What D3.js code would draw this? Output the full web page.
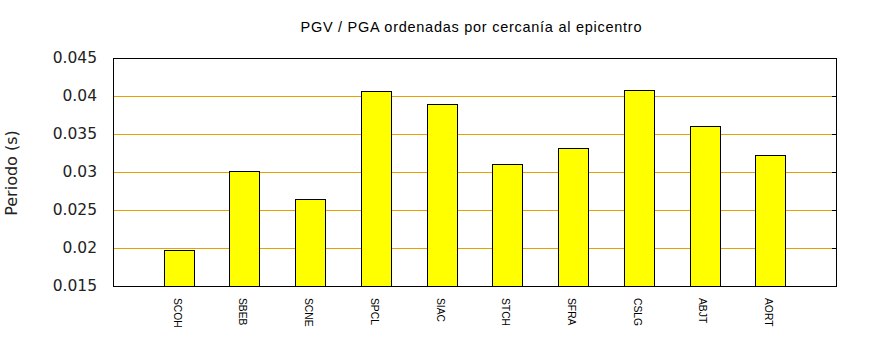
<!DOCTYPE html>
<html>
<head>
<meta charset="utf-8">
<script src="https://cdn.jsdelivr.net/npm/d3@7"></script>
<style>
html,body{margin:0;padding:0;background:#fff;}
svg{display:block;}
</style>
</head>
<body>
<svg id="chart" width="870" height="350"></svg>
<script>
const categories = ["SCOH","SBEB","SCNE","SPCL","SIAC","STCH","SFRA","CSLG","ABJT","AORT"];
const values = [0.0197,0.0301,0.0265,0.0406,0.0389,0.0311,0.0331,0.0408,0.0360,0.0322];
const yTicks = [0.015,0.02,0.025,0.03,0.035,0.04,0.045];
const yTickLabels = ["0.015","0.02","0.025","0.03","0.035","0.04","0.045"];
const title = "PGV / PGA ordenadas por cercanía al epicentro";
const yLabel = "Periodo (s)";

const svg = d3.select("#chart");
const L = 113, R = 836, T = 58, B = 286;

const x = d3.scaleLinear().domain([-1, categories.length]).range([L, R]);
const y = d3.scaleLinear().domain([0.015, 0.045]).range([B, T]);
const bw = x(0.456) - x(0);

// grid lines
svg.append("g").selectAll("line").data(yTicks.slice(1, -1)).join("line")
  .attr("x1", L).attr("x2", R - 4)
  .attr("y1", d => Math.round(y(d)) + 0.5).attr("y2", d => Math.round(y(d)) + 0.5)
  .attr("stroke", "#e6a000").attr("stroke-width", 1);

// right mirror ticks
svg.append("g").selectAll("line").data(yTicks.slice(1, -1)).join("line")
  .attr("x1", R - 4).attr("x2", R)
  .attr("y1", d => Math.round(y(d)) + 0.5).attr("y2", d => Math.round(y(d)) + 0.5)
  .attr("stroke", "#000").attr("stroke-width", 1);

// bars
svg.append("g").selectAll("rect").data(values).join("rect")
  .attr("x", (d, i) => Math.round(x(i) - bw / 2) + 0.5)
  .attr("y", d => Math.round(y(d)) + 0.5)
  .attr("width", Math.round(bw))
  .attr("height", d => B - Math.round(y(d)))
  .attr("fill", "#ffff00").attr("stroke", "#000").attr("stroke-width", 1);

// frame
svg.append("rect")
  .attr("x", L + 0.5).attr("y", T + 0.5)
  .attr("width", R - L).attr("height", B - T)
  .attr("fill", "none").attr("stroke", "#000").attr("stroke-width", 1);

// y axis labels
const yAxis = d3.axisLeft(y).tickValues(yTicks).tickSize(0)
  .tickFormat((d, i) => yTickLabels[i]).tickPadding(0);
const gy = svg.append("g").attr("transform", `translate(${L - 16},0)`).call(yAxis);
gy.select(".domain").remove();
gy.selectAll("text")
  .attr("font-family", "DejaVu Sans").attr("font-size", "15.5px")
  .attr("fill", "#222").attr("dy", "0.35em").attr("y", -1);

// x labels
svg.append("g").selectAll("text").data(categories).join("text")
  .attr("transform", (d, i) => `translate(${x(i) - 1.5},298) rotate(90)`)
  .attr("dy", "0.35em")
  .attr("font-family", "Liberation Sans, Arial, sans-serif")
  .attr("font-size", "10.3px")
  .attr("fill", "#000")
  .text(d => d);

// title
svg.append("text")
  .attr("x", 471).attr("y", 31.5)
  .attr("text-anchor", "middle")
  .attr("font-family", "Liberation Sans, Arial, sans-serif")
  .attr("font-size", "14.5px")
  .attr("textLength", 341).attr("lengthAdjust", "spacing")
  .attr("fill", "#000")
  .text(title);

// y axis title
svg.append("text")
  .attr("transform", "translate(17,173) rotate(-90)")
  .attr("text-anchor", "middle")
  .attr("font-family", "DejaVu Sans")
  .attr("font-size", "16px")
  .attr("fill", "#222")
  .text(yLabel);
</script>
</body>
</html>
